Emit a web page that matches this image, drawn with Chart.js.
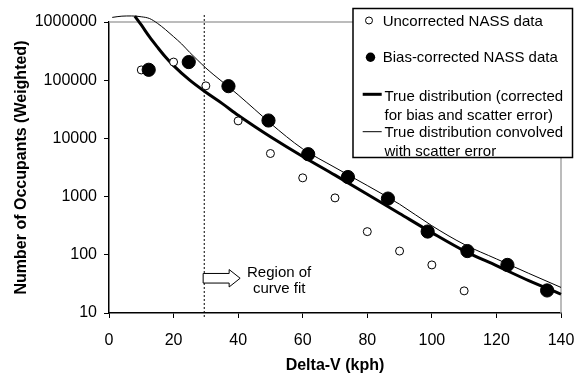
<!DOCTYPE html>
<html>
<head>
<meta charset="utf-8">
<script src="https://cdn.jsdelivr.net/npm/chart.js@4/dist/chart.umd.min.js"></script>
<style>
  html, body { margin: 0; padding: 0; background: #fff; }
  #wrap { position: relative; width: 582px; height: 377px; }
</style>
</head>
<body>
<div id="wrap"><canvas id="chart" width="582" height="377"></canvas></div>
<script>
// ─── DATA ──────────────────────────────────────────
const UNC_X  = [10, 20, 30, 40, 50, 60, 70, 80, 90, 100, 110];
const UNC_Y  = [150000, 205000, 80000, 20000, 5500, 2100, 950, 250, 116, 67, 24];

const BIAS_X = [12.3, 24.7, 37, 49.4, 61.7, 74, 86.4, 98.7, 111, 123.4, 135.7];
const BIAS_Y = [151000, 205000, 79000, 20300, 5350, 2170, 925, 251, 116, 67, 24.4];

// true distribution (thick)
const TRUE_X = [8, 10, 12.5, 15, 17.5, 20, 25, 30, 35, 40, 45, 50, 60, 70, 80, 90, 100, 110, 120, 130, 140, 142];
const TRUE_Y = [1260000, 890000, 560000, 370000, 250000, 178000, 100000, 62000, 40000, 25000, 16200, 10700,
                4900, 2340, 1100, 513, 240, 117, 65, 36, 21, 18.6];

// convolved with scatter error (thin)
const CONV_X = [1, 4, 7, 10, 12.5, 15, 17.5, 20, 22.5, 25, 27.5, 30, 32.5, 35, 40, 45, 50, 55, 60, 70, 80, 90,
                100, 110, 120, 130, 140, 142];
const CONV_Y = [1200000, 1260000, 1270000, 1230000, 1150000, 950000, 740000, 560000, 420000, 300000, 220000,
                162000, 123000, 95000, 56000, 32000, 18200, 10700, 6600, 3160, 1550, 740, 316, 151, 85, 48, 27.5, 24.5];

const FIT_X = 29.5;               // dotted "region of curve fit" boundary
const FIT_Y = [1320000, 8];

const X_TICKS = [0, 20, 40, 60, 80, 100, 120, 140];
const Y_TICKS = [10, 100, 1000, 10000, 100000, 1000000];

const LEGEND_ITEMS = [
  { kind: 'open',  lines: ['Uncorrected NASS data'] },
  { kind: 'dot',   lines: ['Bias-corrected NASS data'] },
  { kind: 'thick', lines: ['True distribution (corrected', 'for bias and scatter error)'] },
  { kind: 'thin',  lines: ['True distribution convolved', 'with scatter error'] },
];
const NOTE_LINES = ['Region of', 'curve fit'];
const NOTE_AT = [52.7, 38];

const FONT = "'Liberation Sans', Arial, sans-serif";

Chart.defaults.font.family = FONT;
Chart.defaults.font.size = 16;
Chart.defaults.color = '#000';

const zip = (xs, ys) => xs.map((x, i) => ({ x, y: ys[i] }));

// ─── EXTRA DRAWING: frame, note arrow, legend box ───
function drawNote(chart) {
  const { ctx, scales: { x, y } } = chart;
  const cx = x.getPixelForValue(NOTE_AT[0]);
  const cy = y.getPixelForValue(NOTE_AT[1]);
  ctx.save();
  // block arrow
  const ay = cy - 1;
  ctx.beginPath();
  ctx.moveTo(cx - 76, ay - 4.8);
  ctx.lineTo(cx - 50, ay - 4.8);
  ctx.lineTo(cx - 50, ay - 8.7);
  ctx.lineTo(cx - 39, ay);
  ctx.lineTo(cx - 50, ay + 8.7);
  ctx.lineTo(cx - 50, ay + 4.8);
  ctx.lineTo(cx - 76, ay + 4.8);
  ctx.closePath();
  ctx.fillStyle = '#fff';
  ctx.fill();
  ctx.strokeStyle = '#000';
  ctx.lineWidth = 1;
  ctx.stroke();
  // text
  ctx.font = '15px ' + FONT;
  ctx.fillStyle = '#000';
  ctx.textAlign = 'center';
  ctx.textBaseline = 'alphabetic';
  ctx.fillText(NOTE_LINES[0], cx, cy - 2.3);
  ctx.fillText(NOTE_LINES[1], cx, cy + 13.3);
  ctx.restore();
}

function drawLegendBox(chart) {
  const ctx = chart.ctx;
  const bx = 353, by = 8.5, bw = 219.5, bh = 149;
  ctx.save();
  ctx.fillStyle = '#fff';
  ctx.fillRect(bx, by, bw, bh);
  ctx.strokeStyle = '#000';
  ctx.lineWidth = 1.5;
  ctx.strokeRect(bx, by, bw, bh);

  const rows = [
    { my: 20.5, bases: [25.7] },
    { my: 57.3, bases: [62.3] },
    { my: 94.3, bases: [100.7, 120] },
    { my: 131.7, bases: [137.3, 155.5] },
  ];
  ctx.font = '15px ' + FONT;
  ctx.textAlign = 'left';
  ctx.textBaseline = 'alphabetic';
  LEGEND_ITEMS.forEach((it, i) => {
    const r = rows[i];
    ctx.strokeStyle = '#000';
    ctx.fillStyle = '#000';
    if (it.kind === 'open') {
      ctx.beginPath(); ctx.arc(369, r.my, 3.5, 0, Math.PI * 2);
      ctx.fillStyle = '#fff'; ctx.fill();
      ctx.lineWidth = 1; ctx.stroke();
    } else if (it.kind === 'dot') {
      ctx.beginPath(); ctx.arc(370.5, r.my, 4.7, 0, Math.PI * 2); ctx.fill();
    } else {
      ctx.lineWidth = it.kind === 'thick' ? 3 : 1;
      ctx.beginPath(); ctx.moveTo(362.7, r.my); ctx.lineTo(381.7, r.my); ctx.stroke();
    }
    const tx = (it.kind === 'open' || it.kind === 'dot') ? 382.7 : 384.5;
    ctx.fillStyle = '#000';
    it.lines.forEach((t, j) => ctx.fillText(t, tx, r.bases[j]));
  });
  ctx.restore();
}

const decor = {
  id: 'decor',
  beforeDatasetsDraw(chart) {
    const { ctx, chartArea: a } = chart;
    ctx.save();
    ctx.strokeStyle = '#a6a6a6';
    ctx.lineWidth = 1.5;
    ctx.beginPath();
    ctx.moveTo(a.left, a.top);
    ctx.lineTo(a.right, a.top);
    ctx.lineTo(a.right, a.bottom);
    ctx.stroke();
    ctx.restore();
  },
  afterDraw(chart) {
    drawNote(chart);
    drawLegendBox(chart);
  }
};

// ─── CHART ──────────────────────────────────────────
new Chart(document.getElementById('chart'), {
  type: 'scatter',
  data: {
    datasets: [
      { label: 'Bias-corrected NASS data', data: zip(BIAS_X, BIAS_Y),
        pointRadius: 6.6, pointBorderWidth: 1, pointBackgroundColor: '#000', pointBorderColor: '#000' },
      { label: 'Uncorrected NASS data', data: zip(UNC_X, UNC_Y),
        pointRadius: 4, pointBorderWidth: 1, pointBackgroundColor: '#fff', pointBorderColor: '#000' },
      { label: 'True distribution (corrected for bias and scatter error)', data: zip(TRUE_X, TRUE_Y),
        showLine: true, pointRadius: 0, borderColor: '#000', borderWidth: 3,
        cubicInterpolationMode: 'monotone', clip: false },
      { label: 'True distribution convolved with scatter error', data: zip(CONV_X, CONV_Y),
        showLine: true, pointRadius: 0, borderColor: '#000', borderWidth: 1,
        cubicInterpolationMode: 'monotone', clip: false },
      { label: 'fit', data: FIT_Y.map(v => ({ x: FIT_X, y: v })),
        showLine: true, pointRadius: 0, borderColor: '#000', borderWidth: 1,
        borderDash: [2, 2], clip: false },
    ]
  },
  options: {
    responsive: false,
    animation: false,
    layout: { padding: { top: 22, right: 21, left: 0, bottom: 0 } },
    plugins: { legend: { display: false }, tooltip: { enabled: false } },
    scales: {
      x: {
        type: 'linear', min: 0, max: 140,
        afterBuildTicks: s => { s.ticks = X_TICKS.map(v => ({ value: v })); },
        afterFit: s => { s.height = 64; s.paddingLeft = 0; s.paddingRight = 0; },
        ticks: { padding: 13, color: '#000', font: { size: 16 } },
        grid: { drawOnChartArea: false, drawTicks: true, tickLength: 5, color: '#000', tickWidth: 1 },
        border: { color: '#000', width: 1.5 },
        title: { display: true, text: 'Delta-V (kph)', font: { size: 16, weight: 'bold' },
                 padding: { top: 0, bottom: 2 }, color: '#000' }
      },
      y: {
        type: 'logarithmic', min: 10, max: 1000000,
        afterBuildTicks: s => { s.ticks = Y_TICKS.map(v => ({ value: v })); },
        afterFit: s => { s.width = 109; s.paddingTop = 0; s.paddingBottom = 0; },
        ticks: { padding: 7, color: '#000', font: { size: 16 }, callback: v => String(v) },
        grid: { drawOnChartArea: false, drawTicks: true, tickLength: 5, color: '#000', tickWidth: 1 },
        border: { color: '#000', width: 1.5 },
        title: { display: true, text: 'Number of Occupants (Weighted)', font: { size: 16, weight: 'bold' },
                 padding: { top: 12, bottom: 0 }, color: '#000' }
      }
    }
  },
  plugins: [decor]
});
</script>
</body>
</html>
